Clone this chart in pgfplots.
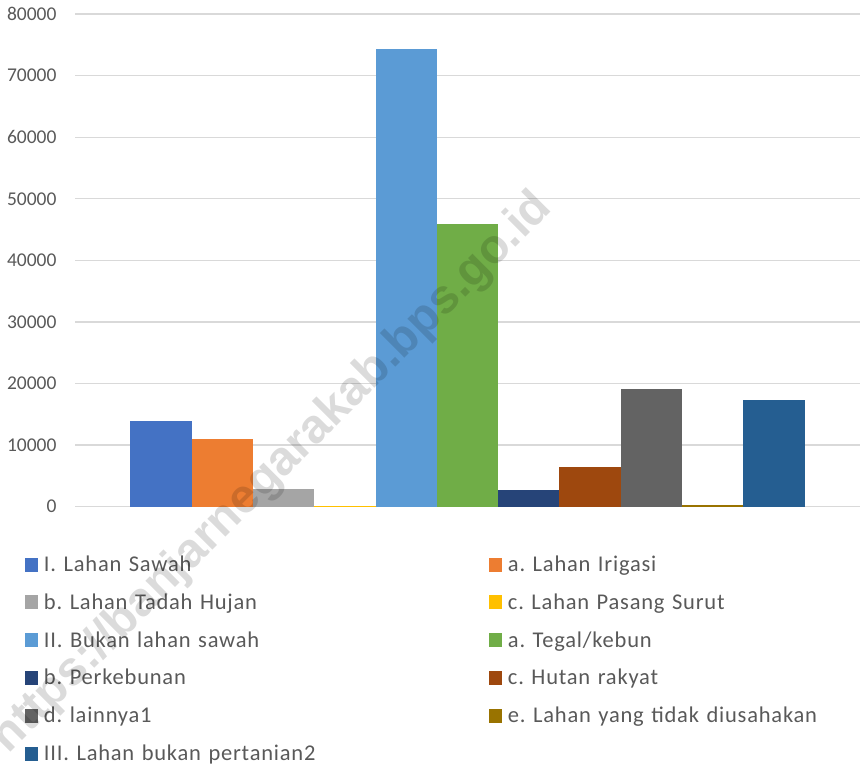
\documentclass[border=0pt]{standalone}
\usepackage{fontspec}
\setmainfont{Carlito}
\newfontfamily\legfont[LetterSpace=3.5]{Carlito}
\newfontfamily\wmfont{Liberation Sans Bold}
\usepackage{pgfplots}
\pgfplotsset{compat=1.18}
\frenchspacing
\definecolor{c1}{HTML}{4472C4}
\definecolor{c2}{HTML}{ED7D31}
\definecolor{c3}{HTML}{A5A5A5}
\definecolor{c4}{HTML}{FFC000}
\definecolor{c5}{HTML}{5B9BD5}
\definecolor{c6}{HTML}{70AD47}
\definecolor{c7}{HTML}{264478}
\definecolor{c8}{HTML}{9E480E}
\definecolor{c9}{HTML}{636363}
\definecolor{c10}{HTML}{997300}
\definecolor{c11}{HTML}{255E91}
\definecolor{txt}{HTML}{595959}
\definecolor{grd}{HTML}{D9D9D9}
\pgfplotsset{/pgfplots/ybar legend/.style={/pgfplots/legend image code/.code={\fill[##1] (0pt,-7pt) rectangle (13.5pt,7pt);}}}
\begin{document}
\begin{tikzpicture}[x=1pt,y=1pt]
\useasboundingbox (0,0) rectangle (862,-766);
\begin{axis}[
  at={(75pt,-506.7pt)}, anchor=south west,
  scale only axis, width=785pt, height=492.7pt,
  xmin=-1, xmax=1, ymin=0, ymax=80000,
  ytick distance=10000, xtick=\empty,
  scaled y ticks=false,
  yticklabel style={/pgf/number format/1000 sep={}, /pgf/number format/assume math mode=true,
    font=\fontsize{19.5}{23}\selectfont, text=txt, inner sep=0pt, xshift=-18.3pt},
  ymajorgrids, grid style={grd, line width=1.3pt},
  axis line style={draw=none}, tick style={draw=none}, major tick length=0pt,
  ybar=0pt, bar width=61.3pt,
  legend columns=2, legend cell align=left,
  legend style={at={(-0.0637,-0.0930)}, anchor=north west, draw=none, fill=none,
    inner sep=0pt, outer sep=0pt, column sep=5.5pt, row sep=13.8pt,
    font=\legfont\fontsize{22.5}{24}\selectfont\frenchspacing, text=txt,
    nodes={inner sep=0pt, text width=439.5pt, text height=19pt, text depth=5pt, align=left}},
]
\addplot[fill=c1, draw=none] coordinates {(0,13900)};
\addlegendentry{I. Lahan Sawah}
\addplot[fill=c2, draw=none] coordinates {(0,11000)};
\addlegendentry{a. Lahan Irigasi}
\addplot[fill=c3, draw=none] coordinates {(0,2870)};
\addlegendentry{b. Lahan Tadah Hujan}
\addplot[fill=c4, draw=none] coordinates {(0,130)};
\addlegendentry{c. Lahan Pasang Surut}
\addplot[fill=c5, draw=none] coordinates {(0,74400)};
\addlegendentry{II. Bukan lahan sawah}
\addplot[fill=c6, draw=none] coordinates {(0,45900)};
\addlegendentry{a. Tegal/kebun}
\addplot[fill=c7, draw=none] coordinates {(0,2710)};
\addlegendentry{b. Perkebunan}
\addplot[fill=c8, draw=none] coordinates {(0,6440)};
\addlegendentry{c. Hutan rakyat}
\addplot[fill=c9, draw=none] coordinates {(0,19100)};
\addlegendentry{d. lainnya1}
\addplot[fill=c10, draw=none] coordinates {(0,200)};
\addlegendentry{e. Lahan yang tidak diusahakan}
\addplot[fill=c11, draw=none] coordinates {(0,17320)};
\addlegendentry{III. Lahan bukan pertanian2}
\end{axis}
\node[rotate=45, anchor=base east, text=black, opacity=0.14,
  font=\wmfont\fontsize{48}{52}\selectfont] at (556,-207) {https://banjarnegarakab.bps.go.id};
\end{tikzpicture}
\end{document}
